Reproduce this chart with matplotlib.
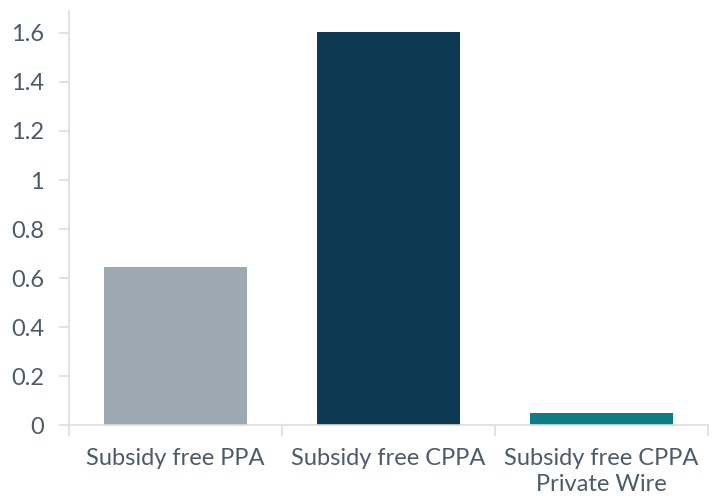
import matplotlib
matplotlib.use("Agg")
import matplotlib.pyplot as plt
from matplotlib.ticker import FixedLocator, FuncFormatter

categories = ["Subsidy free PPA", "Subsidy free CPPA", "Subsidy free CPPA\nPrivate Wire"]
values = [0.643, 1.605, 0.049]
colors = ["#9da9b1", "#0d3a52", "#0a7d86"]
yticks = [0, 0.2, 0.4, 0.6, 0.8, 1.0, 1.2, 1.4, 1.6]

plt.rcParams["font.family"] = ["Lato", "DejaVu Sans"]
text_color = "#4b5b6b"
axis_color = "#d9dee3"

fig = plt.figure(figsize=(7.15, 4.96), dpi=100)
ax = fig.add_axes([0.0965, 0.143, 0.8935, 0.835])

x = list(range(len(categories)))
ax.bar(x, values, width=0.67, color=colors, zorder=2)

ax.set_xlim(-0.5, len(categories) - 0.5)
ax.set_ylim(0, 1.69)

ax.yaxis.set_major_locator(FixedLocator(yticks))
ax.yaxis.set_major_formatter(FuncFormatter(lambda v, p: f"{v:g}"))
ax.tick_params(axis="y", direction="out", length=7, width=1.2, color=axis_color,
               labelsize=17, labelcolor=text_color, pad=11)

ax.set_xticks(x)
ax.set_xticklabels(categories, linespacing=1.27)
ax.tick_params(axis="x", which="major", length=0, labelsize=17, labelcolor=text_color, pad=16.5)
ax.set_xticks([i - 0.5 for i in range(len(categories) + 1)], minor=True)
ax.tick_params(axis="x", which="minor", direction="out", length=8, width=1.2, color=axis_color)

for side in ["top", "right"]:
    ax.spines[side].set_visible(False)
for side in ["left", "bottom"]:
    ax.spines[side].set_color(axis_color)
    ax.spines[side].set_linewidth(1.2)

fig.savefig("out.png", dpi=100)
